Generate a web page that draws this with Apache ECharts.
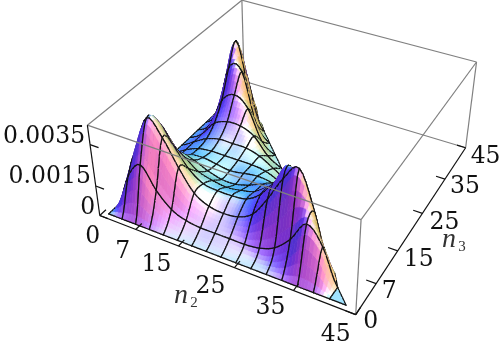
<!DOCTYPE html>
<html><head><meta charset="utf-8">
<style>html,body{margin:0;padding:0;background:#fff}#c{width:500px;height:354px}</style>
<script src="https://cdn.jsdelivr.net/npm/echarts@6/dist/echarts.min.js"></script>
</head><body><div id="c"></div>
<script>
// --- data ---
const n2Ticks=[0,7,15,25,35,45];
const n3Ticks=[0,7,15,25,35,45];
const zTicks=[0,0.0015,0.0035];
const zTickLabels=['0','0.0015','0.0035'];
const axisTop=0.0044;
const meshFirst=1, meshLast=43, meshCells=16;
// surface heights in units of 1e-4, row = n3 mesh line, column = n2 mesh line
const row00=[0,0,0,0,0,0,0,0,0,0,0,0,0,0,0,0,0];
const row01=[0,17,25,15,8,5,4,4,4,4,5,8,15,25,17,0];
const row02=[0,25,43,36,24,14,10,9,10,14,24,36,43,25,0];
const row03=[0,15,36,28,19,14,13,13,14,19,28,36,15,0];
const row04=[0,8,21,18,13,11,10,11,13,18,21,8,0];
const row05=[0,5,13,12,9,7,7,9,12,13,5,0];
const row06=[0,4,8,9,8,7,8,9,8,4,0];
const row07=[0,4,7,8,8,8,8,7,4,0];
const row08=[0,4,8,10,10,10,8,4,0];
const row09=[0,4,12,15,15,12,4,0];
const row10=[0,5,20,25,20,5,0];
const row11=[0,8,33,33,8,0];
const row12=[0,15,43,15,0];
const row13=[0,25,25,0];
const row14=[0,17,0];
const row15=[0,0];
const row16=[0];
const rows=[row00,row01,row02,row03,row04,row05,row06,row07,row08,row09,row10,row11,row12,row13,row14,row15,row16];

// --- camera calibration: frame corners [x,y,z in 0..1] seen at [px,py] ---
const frameCalibration=[
 [0,0,0,100,215],[1,0,0,355,315],[1,1,0,466,148],
 [0,0,1,87,126],[1,0,1,362,219],[1,1,1,476,62],[0,1,1,242,0]];
function solveCamera(){
 const A=[],b=[];
 frameCalibration.forEach(([X,Y,Z,u,v])=>{
  A.push([X,Y,Z,1,0,0,0,0,-u*X,-u*Y,-u*Z]);b.push(u);
  A.push([0,0,0,0,X,Y,Z,1,-v*X,-v*Y,-v*Z]);b.push(v);
 });
 const n=11,M=[];
 for(let r=0;r<n;r++){M[r]=[];for(let c=0;c<n;c++){let s=0;A.forEach(a=>s+=a[r]*a[c]);M[r][c]=s;}
  let s=0;A.forEach((a,k)=>s+=a[r]*b[k]);M[r][n]=s;}
 for(let c=0;c<n;c++){let p=c;for(let r=c+1;r<n;r++)if(Math.abs(M[r][c])>Math.abs(M[p][c]))p=r;
  [M[c],M[p]]=[M[p],M[c]];
  for(let r=0;r<n;r++)if(r!==c){const f=M[r][c]/M[c][c];for(let k=c;k<=n;k++)M[r][k]-=f*M[c][k];}}
 return M.map((r,i)=>r[n]/r[i]);
}
const P=solveCamera();
function project(n2,n3,z){
 const X=n2/45,Y=n3/45,Z=z/axisTop;
 const w=P[8]*X+P[9]*Y+P[10]*Z+1;
 return [(P[0]*X+P[1]*Y+P[2]*Z+P[3])/w,(P[4]*X+P[5]*Y+P[6]*Z+P[7])/w,w];
}
// --- surface sampling ---
const gridStep=(meshLast-meshFirst)/meshCells;
function raw(i,j){const r=rows[j];if(!r||i<0||i>=r.length)return 0;return r[i];}
function cr(t,a,b,c,d){return 0.5*((2*b)+(-a+c)*t+(2*a-5*b+4*c-d)*t*t+(-a+3*b-3*c+d)*t*t*t);}
function zAt(u,v){
 const i=Math.floor(u),j=Math.floor(v),fu=u-i,fv=v-j,col=[];
 for(let k=-1;k<=2;k++)col.push(cr(fu,raw(i-1,j+k),raw(i,j+k),raw(i+1,j+k),raw(i+2,j+k)));
 return Math.max(0,cr(fv,col[0],col[1],col[2],col[3]))*1e-4;
}
function n2At(u){return meshFirst+u*gridStep;}
// --- lighting: viewer basis and the three coloured lights ---
const rightV=[.887,.462,0],upV=[-.31,.558,.769],towardV=[.355,-.682,.638];
const boxZ=.42;
function norm(a){const l=Math.hypot(a[0],a[1],a[2]);return a.map(x=>x/l);}
const lightR=norm([1.5,-.5,2]),lightG=norm([1.5,1.5,2]),lightB=norm([-.5,1.5,2]);
const halfV=norm([0,.3,1]);
function shade(u,v){
 const h=.1,g=gridStep/45,k=boxZ/axisTop/(2*h*g);
 const dx=(zAt(u+h,v)-zAt(Math.max(0,u-h),v))*k,dy=(zAt(u,v+h)-zAt(u,Math.max(0,v-h)))*k;
 const n=norm([-dx,-dy,1]);
 let N=[n[0]*rightV[0]+n[1]*rightV[1]+n[2]*rightV[2],n[0]*upV[0]+n[1]*upV[1]+n[2]*upV[2],n[0]*towardV[0]+n[1]*towardV[1]+n[2]*towardV[2]];
 if(N[2]<0)N=N.map(x=>-x);
 const d=l=>Math.max(0,N[0]*l[0]+N[1]*l[1]+N[2]*l[2]);
 const s=Math.pow(d(halfV),10)*.2;
 const c=[.312+.8*d(lightR)+s,.188+.8*d(lightG)+s,.4+.8*d(lightB)+s];
 return 'rgb('+c.map(x=>Math.round(255*Math.min(1,x))).join(',')+')';
}
// --- surface patches, far ones first ---
const S=5,patches=[];
for(let j=0;j<meshCells;j++)for(let i=0;i<meshCells-j;i++)for(let b=0;b<S;b++)for(let a=0;a<S;a++){
 const su=i*S+a,sv=j*S+b,lim=meshCells*S;
 if(su+sv+1>lim)continue;
 const tri=su+sv+2>lim;
 const uv=tri?[[su,sv],[su+1,sv],[su,sv+1]]:[[su,sv],[su+1,sv],[su+1,sv+1],[su,sv+1]];
 const pts=uv.map(q=>{const u=q[0]/S,v=q[1]/S;return project(n2At(u),n2At(v),zAt(u,v));});
 const cu=(su+(tri?.33:.5))/S,cv=(sv+(tri?.33:.5))/S;
 const edges=[];
 if(a===0||su===0)edges.push([0,uv.length-1]);
 if(b===0)edges.push([0,1]);
 if(tri)edges.push([1,2]);
 else{if(a===S-1)edges.push([1,2]);if(b===S-1)edges.push([2,3]);}
 patches.push({pts,color:shade(cu,cv),edges,depth:pts.reduce((s,p)=>s+p[2],0)/pts.length});
}
patches.sort((p,q)=>q.depth-p.depth);

// --- frame ---
const c000=[0,0,0],c450=[45,0,0],c455=[45,45,0],c045=[0,45,0];
const t000=[0,0,axisTop],t450=[45,0,axisTop],t455=[45,45,axisTop],t045=[0,45,axisTop];
const backEdges=[[c045,c455],[c045,t045]];
const frontGray=[[t000,t045],[t045,t455],[t455,t450],[t000,t450],[t450,c450],[t455,c455]];
const frontBlack=[[c000,c450],[c450,c455],[c000,t000]];
n2Ticks.forEach(n=>frontBlack.push([[n,0,0],[n,1.6,0]]));
n3Ticks.forEach(n=>frontBlack.push([[45,n,0],[43.4,n,0]]));
zTicks.forEach(v=>frontBlack.push([[0,0,v],[1.6,0,v]]));

const labelFont='DejaVu Serif';
const n2Off=[[-7,21],[-13,22],[-22,19],[-24,19],[-23,17],[-20,20]];
const n3Off=[[15,7],[13,8],[21,9],[22,10],[20,8],[20,9]];
const zOff=[[-12,-8],[-46,-9],[-46,-8]];
const texts=[];
n2Ticks.forEach((n,i)=>{const p=project(n,0,0);texts.push({t:String(n),x:p[0]+n2Off[i][0],y:p[1]+n2Off[i][1]});});
n3Ticks.forEach((n,i)=>{const p=project(45,n,0);texts.push({t:String(n),x:p[0]+n3Off[i][0],y:p[1]+n3Off[i][1]});});
zTicks.forEach((v,i)=>{const p=project(0,0,v);texts.push({t:zTickLabels[i],x:p[0]+zOff[i][0],y:p[1]+zOff[i][1]});});
const titleParts=[{t:'n',x:181,y:296,it:1,s:28},{t:'2',x:194,y:303,it:0,s:15},{t:'n',x:449,y:240,it:1,s:28},{t:'3',x:462,y:247,it:0,s:15}];

function lineEl(api,a,b,stroke,w){
 const pa=project(a[0],a[1],a[2]),pb=project(b[0],b[1],b[2]);
 const ca=api.coord([pa[0],pa[1]]),cb=api.coord([pb[0],pb[1]]);
 return {type:'line',shape:{x1:ca[0],y1:ca[1],x2:cb[0],y2:cb[1]},style:{stroke:stroke,lineWidth:w}};
}
function edgeSeries(list,stroke,w,z){
 return {type:'custom',coordinateSystem:'cartesian2d',z:z,silent:true,animation:false,data:list.map((_,i)=>[i,0]),
  renderItem:(p,api)=>lineEl(api,list[p.dataIndex][0],list[p.dataIndex][1],stroke,w)};
}
const chart=echarts.init(document.getElementById('c'),null,{renderer:'canvas'});
chart.setOption({
 animation:false,
 grid:{left:0,right:0,top:0,bottom:0},
 xAxis:{type:'value',min:0,max:500,show:false},
 yAxis:{type:'value',min:0,max:354,inverse:true,show:false},
 series:[
  edgeSeries(backEdges,'#808080',1.2,1),
  {type:'custom',coordinateSystem:'cartesian2d',z:2,silent:true,animation:false,progressive:0,
   data:patches.map((_,i)=>[i,0]),
   renderItem:(p,api)=>{
    const q=patches[p.dataIndex];
    const pts=q.pts.map(r=>api.coord([r[0],r[1]]));
    const children=[{type:'polygon',shape:{points:pts},style:{fill:q.color,stroke:q.color,lineWidth:.7}}];
    q.edges.forEach(e=>children.push({type:'line',shape:{x1:pts[e[0]][0],y1:pts[e[0]][1],x2:pts[e[1]][0],y2:pts[e[1]][1]},style:{stroke:'#111',lineWidth:1.25,lineCap:'round'}}));
    return {type:'group',children};
   }},
  edgeSeries(frontGray,'#808080',1.2,3),
  edgeSeries(frontBlack,'#111',1.2,4),
  {type:'custom',coordinateSystem:'cartesian2d',z:5,silent:true,animation:false,
   data:texts.map((_,i)=>[i,0]),
   renderItem:(p,api)=>{const t=texts[p.dataIndex],c=api.coord([t.x,t.y]);
    return {type:'text',x:c[0],y:c[1],style:{text:t.t,fill:'#111',fontFamily:labelFont,fontSize:23.5,align:'center',verticalAlign:'middle'}};}},
  {type:'custom',coordinateSystem:'cartesian2d',z:5,silent:true,animation:false,
   data:titleParts.map((_,i)=>[i,0]),
   renderItem:(p,api)=>{const t=titleParts[p.dataIndex],c=api.coord([t.x,t.y]);
    return {type:'text',x:c[0],y:c[1],style:{text:t.t,fill:'#333',fontFamily:'Liberation Serif',fontStyle:t.it?'italic':'normal',fontSize:t.s,align:'center',verticalAlign:'middle'}};}}
 ]
});
</script></body></html>
